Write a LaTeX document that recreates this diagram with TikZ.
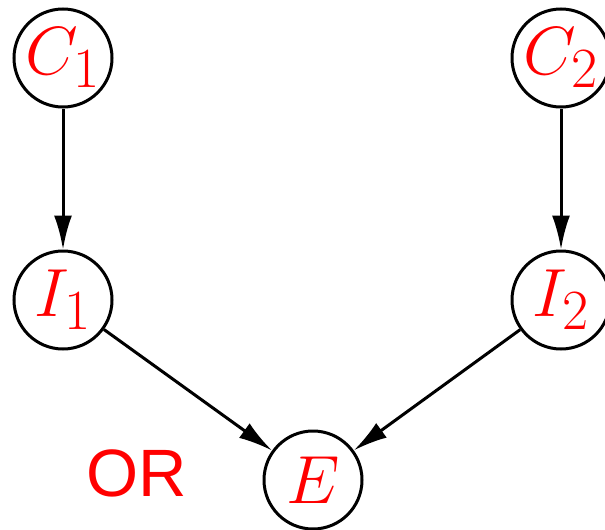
\documentclass[tikz,border=0pt]{standalone}
\usepackage{graphicx}
\usepackage{fontspec}
\newfontfamily\orfont{Liberation Sans}
\usetikzlibrary{arrows.meta}
% math label enlarged beyond the largest fixed math size
\newcommand{\biglabel}[1]{\scalebox{1.37}{\fontsize{24.88}{30}\selectfont$#1$}}
\begin{document}
\begin{tikzpicture}[x=0.5pt,y=-0.5pt,
  var/.style={circle,draw=black,line width=1.5pt,minimum size=49pt,inner sep=0pt,
    text=red},
  edge/.style={line width=1.5pt,-{Latex[length=17pt,width=9pt]}}]
  \useasboundingbox (0,0) rectangle (605,530);
  \node[var] (c1) at (63,58) {\biglabel{C_1}};
  \node[var] (c2) at (561,58) {\biglabel{C_2}};
  \node[var] (i1) at (63,300) {\biglabel{I_1}};
  \node[var] (i2) at (561,300) {\biglabel{I_2}};
  \node[var] (e) at (313,480) {\biglabel{E}};
  \node[text=red,font=\orfont\fontsize{33.5}{40}\selectfont] (or) at (137,473) {OR};
  \draw[edge] (c1) -- (i1);
  \draw[edge] (c2) -- (i2);
  \draw[edge] (i1) -- (e);
  \draw[edge] (i2) -- (e);
\end{tikzpicture}
\end{document}
